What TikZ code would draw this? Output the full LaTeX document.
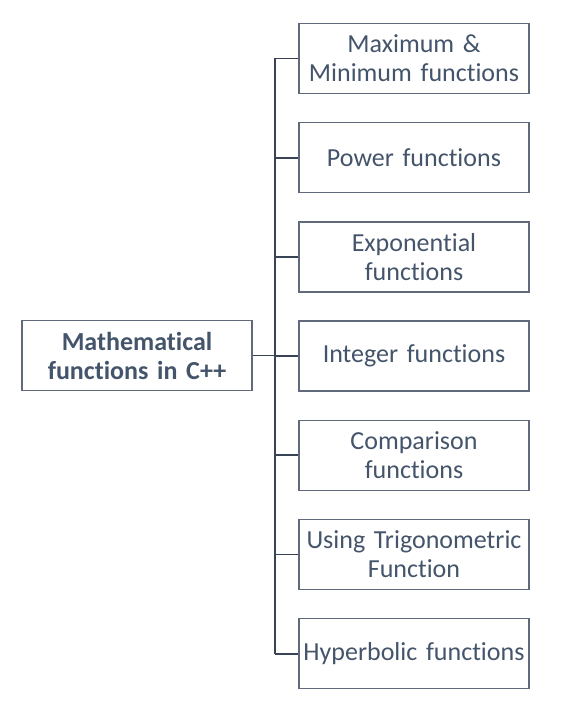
\documentclass[tikz,border=0pt]{standalone}
\usepackage{fontspec}
\setmainfont{Carlito}[Ligatures=NoCommon, WordSpace=0.85]
\usepackage{tikz}
\usetikzlibrary{arrows,shapes,positioning}
\usepackage{xcolor}
\definecolor{cpslate}{RGB}{68,84,106}
\definecolor{cpframe}{RGB}{96,106,122}
\definecolor{cpline}{RGB}{56,68,86}
\tikzstyle{rootbox} = [rectangle, minimum width=230pt, minimum height=70pt, text width=226pt, inner sep=1pt, align=center, draw=cpframe, line width=1.3pt, text=cpslate, font=\fontsize{26}{29}\selectfont\bfseries]
\tikzstyle{funcbox} = [rectangle, minimum width=230pt, minimum height=70pt, text width=228pt, inner sep=1pt, align=center, draw=cpframe, line width=1.3pt, text=cpslate, font=\fontsize{26}{29}\selectfont]
\tikzstyle{branch} = [line width=1.8pt, color=cpline]

\begin{document}
\begin{tikzpicture}
\useasboundingbox (0pt,0pt) rectangle (568pt,-701pt);
% Kinds of functions
\node (maxmin) [funcbox] at (414pt,-58.5pt) {Maximum \&\\Minimum functions};
\node (power) [funcbox, below of=maxmin, node distance=99.2pt] {Power functions};
\node (expo) [funcbox, below of=power, node distance=99.2pt] {Exponential\\functions};
\node (integer) [funcbox, below of=expo, node distance=99.2pt] {Integer functions};
\node (compare) [funcbox, below of=integer, node distance=99.2pt] {Comparison\\functions};
\node (trig) [funcbox, below of=compare, node distance=99.2pt] {Using Trigonometric\\Function};
\node (hyper) [funcbox, below of=trig, node distance=99.2pt] {Hyperbolic functions};

% Root
\node (math) [rootbox] at (137pt,-355.5pt) {Mathematical\\functions in C++};

% Connections
\coordinate (trunk) at (275pt,0pt);
\draw[branch] (trunk |- maxmin.west) -- (trunk |- hyper.west);
\draw[branch] (math.east) -- (trunk |- math.east);
\foreach \kind in {maxmin,power,expo,integer,compare,trig,hyper}
  \draw[branch] (\kind.west) -- (trunk |- \kind.west);
\end{tikzpicture}
\end{document}
